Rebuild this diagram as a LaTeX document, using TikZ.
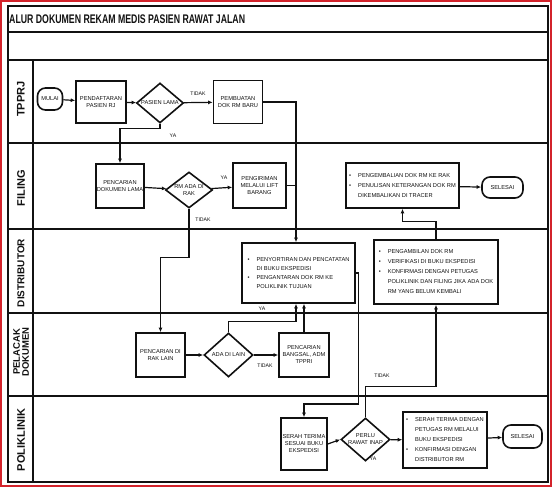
\documentclass[tikz,border=0pt]{standalone}
\usepackage{fontspec}
\setmainfont{Liberation Sans}
\newfontfamily\narrowfont[FakeStretch=0.7]{Liberation Sans}
\usetikzlibrary{shapes.geometric,arrows.meta}
\definecolor{Ink}{HTML}{111111}
\definecolor{FrameRed}{HTML}{D3232B}
\newcommand{\itm}{\makebox[9pt][l]{\textbullet}}
\newcommand{\ind}{\hspace*{9pt}}

\begin{document}
\begin{tikzpicture}[x=1pt,y=-1pt,every node/.style={text=Ink},
  box/.style={draw=Ink,line width=1.6pt,inner sep=1pt,align=center,font=\fontsize{5.7}{7}\selectfont},
  listbox/.style={box,align=left,font=\fontsize{5.7}{10}\selectfont},
  decision/.style={diamond,draw=Ink,line width=1.6pt,inner sep=0pt,aspect=1.2,align=center,font=\fontsize{5.7}{7}\selectfont},
  terminal/.style={box,rounded corners=8pt},
  lane/.style={rotate=90,font=\bfseries\fontsize{11}{11}\selectfont,align=center},
  lbl/.style={inner sep=0pt,font=\fontsize{5.2}{5}\selectfont},
  flow/.style={draw=Ink,line width=1.2pt,-{Latex[length=4.5pt,width=4pt]}},
  line/.style={draw=Ink,line width=1.2pt}]
\useasboundingbox (0,0) rectangle (552,487);
\draw[FrameRed,line width=1.5pt] (1,1) rectangle (551,486);
% frame and lanes
\draw[Ink,line width=1.8pt] (8,6) rectangle (548,482);
\draw[Ink,line width=2pt] (8,32) -- (548,32);
\foreach \y in {60,143,229,313,396} \draw[Ink,line width=2pt] (8,\y) -- (548,\y);
\draw[Ink,line width=1.8pt] (33,60) -- (33,482);
\node[anchor=west,inner sep=0pt,font=\narrowfont\bfseries\fontsize{12.5}{13}\selectfont] (judul) at (9,19) {ALUR DOKUMEN REKAM MEDIS PASIEN RAWAT JALAN};
\node[lane] (tpprj) at (21,99) {TPPRJ};
\node[lane] (filing) at (21,188) {FILING};
\node[lane,font=\bfseries\fontsize{10}{10}\selectfont] (distributor) at (21,273) {DISTRIBUTOR};
\node[lane,font=\bfseries\fontsize{9.5}{9}\selectfont] (pelacak) at (21,352) {PELACAK\\DOKUMEN};
\node[lane] (poliklinik) at (21,440) {POLIKLINIK};

% TPPRJ
\node[terminal,minimum width=25pt,minimum height=22pt] (mulai) at (50,99) {MULAI};
\node[box,minimum width=50pt,minimum height=42pt] (daftar) at (101,102) {PENDAFTARAN\\PASIEN RJ};
\node[decision,minimum width=47pt,minimum height=40pt] (lama) at (160,103) {PASIEN LAMA};
\node[box,minimum width=49pt,minimum height=43pt] (baru) at (238,102) {PEMBUATAN\\DOK RM BARU};

% FILING
\node[box,minimum width=47pt,minimum height=44pt] (cari) at (120,186) {PENCARIAN\\DOKUMEN LAMA};
\node[decision,minimum width=47pt,minimum height=36pt] (rak) at (189,190) {RM ADA DI\\RAK};
\node[box,minimum width=53pt,minimum height=45pt] (lift) at (259.5,185.5) {PENGIRIMAN\\MELALUI LIFT\\BARANG};
\node[listbox,minimum width=113pt,minimum height=45pt] (kembali) at (402.5,185.5) {\itm PENGEMBALIAN DOK RM KE RAK\\\itm PENULISAN KETERANGAN DOK RM\\\ind DIKEMBALIKAN DI TRACER};
\node[terminal,minimum width=41pt,minimum height=21pt] (selesaiA) at (502.5,187.5) {SELESAI};

% DISTRIBUTOR
\node[listbox,font=\fontsize{5.7}{9}\selectfont,minimum width=113pt,minimum height=60pt] (sortir) at (298.5,273) {\itm PENYORTIRAN DAN PENCATATAN\\\ind DI BUKU EKSPEDISI\\\itm PENGANTARAN DOK RM KE\\\ind POLIKLINIK TUJUAN};
\node[listbox,minimum width=124pt,minimum height=64pt] (ambil) at (436,272) {\itm PENGAMBILAN DOK RM\\\itm VERIFIKASI DI BUKU EKSPEDISI\\\itm KONFIRMASI DENGAN PETUGAS\\\ind POLIKLINIK DAN FILING JIKA ADA DOK\\\ind RM YANG BELUM KEMBALI};

% PELACAK DOKUMEN
\node[box,minimum width=49pt,minimum height=44pt] (lain) at (160.5,355) {PENCARIAN DI\\RAK LAIN};
\node[decision,minimum width=49pt,minimum height=44pt] (adalain) at (228.5,355) {ADA DI LAIN};
\node[box,minimum width=50pt,minimum height=44pt] (bangsal) at (304,355) {PENCARIAN\\BANGSAL, ADM\\TPPRI};

% POLIKLINIK
\node[box,minimum width=46pt,minimum height=52pt] (serah) at (304,444) {SERAH TERIMA\\SESUAI BUKU\\EKSPEDISI};
\node[decision,minimum width=49pt,minimum height=43pt] (inap) at (365.5,439.5) {PERLU\\RAWAT INAP};
\node[listbox,minimum width=84pt,minimum height=56pt] (ekspedisi) at (445,440) {\itm SERAH TERIMA DENGAN\\\ind PETUGAS RM MELALUI\\\ind BUKU EKSPEDISI\\\itm KONFIRMASI DENGAN\\\ind DISTRIBUTOR RM};
\node[terminal,minimum width=39pt,minimum height=23pt] (selesaiB) at (522.5,436.5) {SELESAI};

% connectors
\coordinate (sortirIn) at ([xshift=-2.5pt]sortir.north);
\coordinate (sortirYa) at ([xshift=-2.5pt]sortir.south);
\draw[flow] (mulai) -- (daftar);
\draw[flow] (daftar) -- (lama);
\draw[flow] (lama) -- (baru);
\draw[flow] (baru.east) -| (sortirIn);
\draw[line] (lift.east) -- (lift.east -| sortirIn);
\draw[flow] (lama.south) -- ++(0,5) -| (cari.north);
\draw[flow] (cari) -- (rak);
\draw[flow] (rak) -- (lift);
\draw[flow] (rak.south) -- ++(0,49) -| (lain.north);
\draw[flow] (kembali) -- (selesaiA);
\draw[flow] (ambil.north) -- ++(0,-18) -| (kembali.south);
\draw[flow] (sortir.east) -- ++(3,0) -- ++(0,131) -| (serah.north);
\draw[flow] (lain) -- (adalain);
\draw[flow] (adalain) -- (bangsal);
\draw[flow] (adalain.north) -- ++(0,-11) -| (sortirYa);
\draw[flow] (bangsal.north) -- (bangsal.north |- sortir.south);
\draw[flow] (serah.east) -- (inap.west);
\draw[flow] (inap.north) -- ++(0,-31) -| (ambil.south);
\draw[flow] (inap) -- (ekspedisi);
\draw[flow] (ekspedisi) -- (selesaiB);

% labels
\node[lbl] (tidakA) at (198,94) {TIDAK};
\node[lbl] (yaA) at (173,136) {YA};
\node[lbl] (yaB) at (224,178) {YA};
\node[lbl] (tidakB) at (203,220) {TIDAK};
\node[lbl] (yaC) at (262,309) {YA};
\node[lbl] (tidakC) at (265,366) {TIDAK};
\node[lbl] (tidakD) at (382,376) {TIDAK};
\node[lbl] (yaD) at (373,459) {YA};
\end{tikzpicture}
\end{document}
